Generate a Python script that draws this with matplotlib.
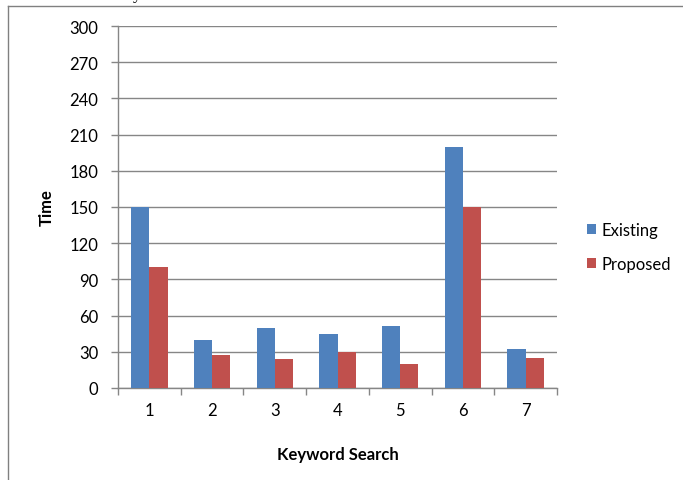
import matplotlib.pyplot as plt
from matplotlib.lines import Line2D
import numpy as np

categories = ["1", "2", "3", "4", "5", "6", "7"]
existing = [150, 40, 50, 45, 51, 200, 32]
proposed = [100, 27, 24, 30, 20, 150, 25]
y_ticks = list(range(0, 301, 30))

blue = "#4F81BD"
red = "#C0504D"
grid_col = "#868686"

plt.rcParams['font.family'] = ['Lato', 'DejaVu Sans']

fig = plt.figure(figsize=(6.83, 4.81), dpi=100)
ax = fig.add_axes([118/683, 1 - 389/481, (557 - 118)/683, (389 - 27)/481])

x = np.arange(len(categories))
w = 0.29
ax.bar(x - w/2, existing, w, color=blue, label="Existing", zorder=3)
ax.bar(x + w/2, proposed, w, color=red, label="Proposed", zorder=3)

ax.set_xlim(-0.5, len(categories) - 0.5)
ax.set_ylim(0, 300)
ax.set_yticks(y_ticks)
ax.set_yticklabels([str(v) for v in y_ticks], fontsize=12)
ax.set_xticks(x)
ax.set_xticklabels(categories, fontsize=12)
ax.set_xticks(np.arange(-0.5, len(categories)), minor=True)
ax.tick_params(axis='x', which='major', length=0, pad=10)
ax.tick_params(axis='x', which='minor', length=5, color=grid_col, width=1)
ax.tick_params(axis='y', length=5, color=grid_col, width=1, pad=9)

ax.yaxis.grid(True, color=grid_col, linewidth=1, zorder=0)
for s in ['top', 'right']:
    ax.spines[s].set_visible(False)
for s in ['left', 'bottom']:
    ax.spines[s].set_color(grid_col)
    ax.spines[s].set_linewidth(1)

ax.set_ylabel("Time", fontsize=12, fontweight='bold', labelpad=11)
ax.set_xlabel("Keyword Search", fontsize=12, fontweight='bold', labelpad=20)

ax.legend(loc='center left', bbox_to_anchor=(572/683, 1 - 248/481),
          bbox_transform=fig.transFigure, frameon=False, fontsize=12,
          handlelength=0.55, handleheight=0.55, handletextpad=0.3,
          labelspacing=1.05)

# outer frame of the page
fig.add_artist(Line2D([8/683, 8/683], [0, 1 - 7/481], color="#808080",
                      linewidth=1, transform=fig.transFigure))
fig.add_artist(Line2D([8/683, 1], [1 - 7/481, 1 - 7/481], color="#808080",
                      linewidth=1, transform=fig.transFigure))
# caption fragment above the frame, cut off by the page edge as in the source
fig.text(133/683, 1 + 1/481, "y", fontsize=12, family='Liberation Serif',
         va='baseline')

fig.savefig("out.png", dpi=100)
